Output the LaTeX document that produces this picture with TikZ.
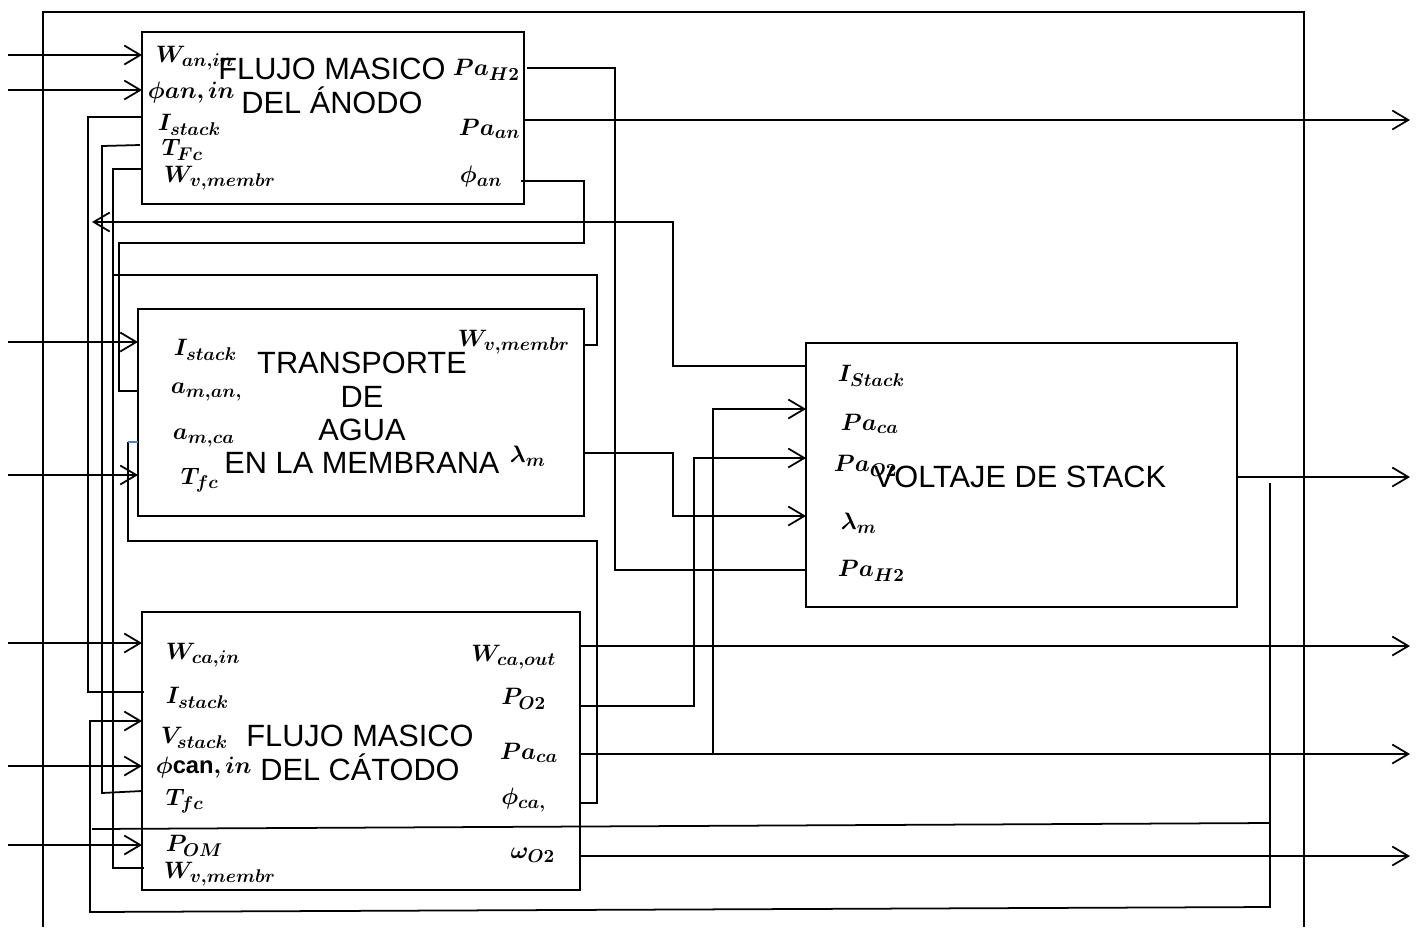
\RequirePackage{fix-cm}
\documentclass[tikz,border=0pt]{standalone}
\usepackage{bm}
\usepackage[no-math]{fontspec}
\setmainfont{Liberation Sans}
\usetikzlibrary{arrows.meta}
\DeclareMathSizes{13.5}{13.5}{10.5}{8}
\definecolor{tickblue}{RGB}{79,129,189}

\begin{document}
\begin{tikzpicture}[x=0.02cm, y=-0.02cm, >={Straight Barb[length=3.2mm,width=3.8mm]},
  line width=1pt,
  box/.style={draw, line width=1.4pt, inner sep=0pt, outer sep=0pt},
  ttl/.style={font=\fontsize{17.5}{19}\selectfont, align=center, inner sep=0pt},
  lbl/.style={font=\fontsize{13.5}{15}\selectfont, inner sep=0pt}]

\useasboundingbox (0,0) rectangle (1419,927);

% outer frame, open at the bottom
\draw[line width=1.4pt] (43,927) -- (43,12) -- (1304,12) -- (1304,927);

% blocks
\node[box, minimum width=7.64cm, minimum height=3.44cm] (an) at (333,118) {};
\node[box, minimum width=8.92cm, minimum height=4.14cm] (mem) at (361,412.5) {};
\node[box, minimum width=8.76cm, minimum height=5.56cm] (ca) at (361,751) {};
\node[box, minimum width=8.62cm, minimum height=5.28cm] (vol) at (1021.5,475) {};

\node[ttl] (anT) at (332,86) {FLUJO MASICO\\DEL ÁNODO};
\node[ttl] (memT) at (362,413) {TRANSPORTE\\DE\\AGUA\\EN LA MEMBRANA};
\node[ttl] (caT) at (360,753) {FLUJO MASICO\\DEL CÁTODO};
\node[ttl] (volT) at (1020,477) {VOLTAJE DE STACK};

% labels of the anode block
\node[lbl, anchor=west] (l1) at (155,58) {$\bm{W_{an,in}}$};
\node[lbl, anchor=west] (l2) at (147,93) {$\bm{\phi an,in}$};
\node[lbl, anchor=west] (l3) at (157,125) {$\bm{I_{stack}}$};
\node[lbl, anchor=west] (l4) at (161,150) {$\bm{T_{Fc}}$};
\node[lbl, anchor=west] (l5) at (163,178) {$\bm{W_{v,membr}}$};
\node[lbl, anchor=west] (l6) at (452,70) {$\bm{Pa_{H2}}$};
\node[lbl, anchor=west] (l7) at (458,129) {$\bm{Pa_{an}}$};
\node[lbl, anchor=west] (l8) at (459,177) {$\bm{\phi_{an}}$};

% labels of the membrane block
\node[lbl, anchor=west] (m1) at (173,350) {$\bm{I_{stack}}$};
\node[lbl, anchor=west] (m2) at (170,392) {$\bm{a_{m,an,}}$};
\node[lbl, anchor=west] (m3) at (172,438) {$\bm{a_{m,ca}}$};
\node[lbl, anchor=west] (m4) at (180,480) {$\bm{T_{fc}}$};
\node[lbl, anchor=west] (m5) at (457,342) {$\bm{W_{v,membr}}$};
\node[lbl, anchor=west] (m6) at (509,456) {$\bm{\lambda_m}$};

% labels of the cathode block
\node[lbl, anchor=west] (c1) at (165,655) {$\bm{W_{ca,in}}$};
\node[lbl, anchor=west] (c2) at (165,698) {$\bm{I_{stack}}$};
\node[lbl, anchor=west] (c3) at (160,738) {$\bm{V_{stack}}$};
\node[lbl, anchor=west] (c4) at (155,768) {$\bm{\phi}$\textbf{can}$\bm{,in}$};
\node[lbl, anchor=west] (c5) at (165,801) {$\bm{T_{fc}}$};
\node[lbl, anchor=west] (c6) at (165,846) {$\bm{P_{OM}}$};
\node[lbl, anchor=west] (c7) at (163,874) {$\bm{W_{v,membr}}$};
\node[lbl, anchor=east] (c8) at (557,657) {$\bm{W_{ca,out}}$};
\node[lbl, anchor=east] (c9) at (547,699) {$\bm{P_{O2}}$};
\node[lbl, anchor=east] (c10) at (559,753) {$\bm{Pa_{ca}}$};
\node[lbl, anchor=east] (c11) at (547,800) {$\bm{\phi_{ca,}}$};
\node[lbl, anchor=east] (c12) at (556,855) {$\bm{\omega_{O2}}$};

% labels of the voltage block
\node[lbl, anchor=west] (v1) at (837,376) {$\bm{I_{Stack}}$};
\node[lbl, anchor=west] (v2) at (840,424) {$\bm{Pa_{ca}}$};
\node[lbl, anchor=west] (v3) at (833,466) {$\bm{Pa_{O2}}$};
\node[lbl, anchor=west] (v4) at (840,523) {$\bm{\lambda_m}$};
\node[lbl, anchor=west] (v5) at (837,571) {$\bm{Pa_{H2}}$};

% ports
\coordinate (anWin) at (142,55);
\coordinate (anPhi) at (142,90);
\coordinate (anI) at (142,117);
\coordinate (anT) at (140,145);
\coordinate (anWv) at (142,169);
\coordinate (anPH) at (527,68);
\coordinate (anPa) at (524,120);
\coordinate (anPhiO) at (521,181);
\coordinate (memI) at (138,342);
\coordinate (memAan) at (138,391);
\coordinate (memAca) at (138,442);
\coordinate (memT) at (138,475);
\coordinate (memWv) at (584,345);
\coordinate (memLam) at (584,453);
\coordinate (caWin) at (142,643);
\coordinate (caI) at (144,692);
\coordinate (caV) at (142,721);
\coordinate (caPhi) at (142,766);
\coordinate (caT) at (142,791);
\coordinate (caPom) at (142,845);
\coordinate (caWv) at (144,868);
\coordinate (caWout) at (580,646);
\coordinate (caPO) at (580,706);
\coordinate (caPa) at (580,754);
\coordinate (caPhiO) at (580,803);
\coordinate (caOm) at (580,856);
\coordinate (volI) at (806,366);
\coordinate (volPa) at (806,409);
\coordinate (volPO) at (806,458);
\coordinate (volLam) at (806,516);
\coordinate (volPH) at (806,570);
\coordinate (volOut) at (1237,477);

% outside inputs
\foreach \p/\y in {anWin/55, anPhi/90, memI/342, memT/475, caWin/643, caPhi/766, caPom/845}
  \draw[->] (8,\y) -- (\p);

% outputs
\foreach \p/\y in {anPa/120, volOut/477, caWout/646, caPa/754, caOm/856}
  \draw[->] (\p) -- (1410,\y);

% feedback lines
\draw (anI) -- (88,117) -- (88,692) -- (caI);
\draw (anT) -- (102,146) -- (102,793) -- (caT);
\draw (anWv) -- (113,169) -- (113,868) -- (caWv);
\draw (memWv) -- (597,345) -- (597,275) -- (113,275);
\draw (anPhiO) -- (584,181) -- (584,243) -- (119,243) -- (119,391) -- (memAan);
\draw (anPH) -- (615,68) -- (615,570) -- (volPH);
\draw[->] (volI) -- (673,366) -- (673,222) -- (92,222);
\draw[->] (memLam) -- (673,453) -- (673,516) -- (volLam);
\draw[->] (caPO) -- (694,706) -- (694,458) -- (volPO);
\draw[->] (713,754) -- (713,409) -- (volPa);
\draw (caPhiO) -- (597,803) -- (597,541) -- (128,541) -- (128,442);
\draw[tickblue] (128,442) -- (memAca);
\draw[->] (1270,483) -- (1270,907) -- (90,912) -- (90,721) -- (caV);
\draw (1270,823) -- (92,829);

\end{tikzpicture}
\end{document}
